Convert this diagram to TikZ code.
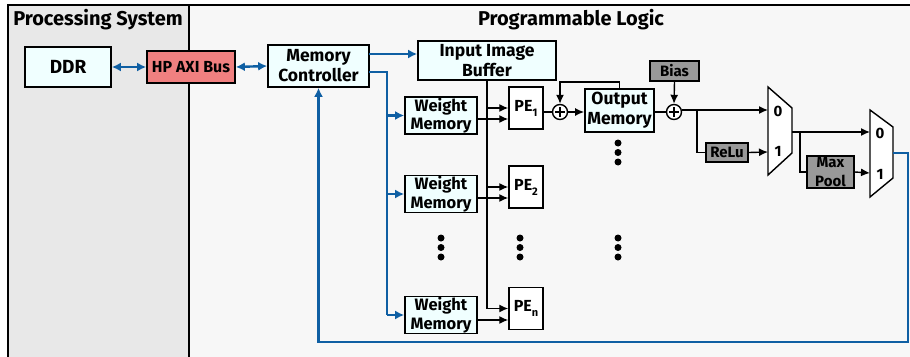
\documentclass[tikz,border=0pt]{standalone}
\usepackage{fontspec}
\setmainfont{Fira Sans}
\usetikzlibrary{arrows.meta,calc}
\definecolor{psbg}{HTML}{E8E8E8}
\definecolor{plbg}{HTML}{F7F7F7}
\definecolor{boxfill}{HTML}{F0FFFF}
\definecolor{hpred}{HTML}{F08080}
\definecolor{grayfill}{HTML}{999999}
\definecolor{busblue}{HTML}{0F5FA3}
\newcommand{\pesub}[1]{PE\raisebox{-5pt}{\fontsize{11}{11}\selectfont #1}}
\begin{document}
\begin{tikzpicture}[x=1pt,y=-1pt,
  blk/.style={draw=black, line width=1.7pt, fill=boxfill, inner sep=0pt, align=center, font=\bfseries\fontsize{17.5}{20}\selectfont},
  wm/.style={blk, minimum width=72pt, minimum height=37pt, font=\bfseries\fontsize{16.5}{18.5}\selectfont},
  pe/.style={draw=black, line width=1.5pt, fill=white, inner sep=0pt, minimum width=34pt, minimum height=42pt, font=\bfseries\fontsize{16}{18}\selectfont},
  gbox/.style={draw=black, line width=1.5pt, fill=grayfill, inner sep=0pt, align=center, font=\bfseries\fontsize{15}{18.5}\selectfont},
  adder/.style={draw=black, line width=1.4pt, circle, fill=white, minimum size=15pt, inner sep=0pt},
  title/.style={font=\bfseries\fontsize{20}{22}\selectfont, inner sep=0pt},
  muxlbl/.style={font=\bfseries\fontsize{15}{17}\selectfont, inner sep=0pt},
  bus/.style={draw=busblue, line width=2.4pt},
  sig/.style={draw=black, line width=1.4pt},
  arr/.style={-{Latex[length=9pt,width=8pt]}},
  barr/.style={-{Latex[length=9pt,width=9pt]}},
  dbarr/.style={{Latex[length=9pt,width=9pt]}-{Latex[length=9pt,width=9pt]}},
  dotc/.style={fill=black, circle, inner sep=0pt, minimum size=7pt}
]
\useasboundingbox (0,0) rectangle (910,356);
% regions
\fill[psbg] (8,5) rectangle (189,360);
\fill[plbg] (189,5) rectangle (912,360);
\draw[line width=2.6pt] (8,360) -- (8,5) -- (912,5);
\draw[line width=2.6pt] (189,5) -- (189,360);
\node[title] (pstitle) at (98,20) {Processing System};
\node[title] (pltitle) at (571,20) {Programmable Logic};

% boxes
\node[blk, minimum width=86pt, minimum height=40pt, font=\bfseries\fontsize{19}{21}\selectfont] (ddr) at (68,67) {DDR};
\node[blk, fill=hpred, minimum width=88pt, minimum height=32pt, font=\bfseries\fontsize{16}{18}\selectfont] (hp) at (191,67) {HP AXI Bus};
\node[blk, minimum width=101pt, minimum height=42pt] (mc) at (318.5,66) {Memory\\Controller};
\node[blk, minimum width=138pt, minimum height=39pt, font=\bfseries\fontsize{17.5}{20.5}\selectfont] (iib) at (487,60.5) {Input Image\\Buffer};
\node[wm] (wm1) at (441,115.5) {Weight\\Memory};
\node[wm] (wm2) at (441,194) {Weight\\Memory};
\node[wm] (wmn) at (441,315) {Weight\\Memory};
\node[pe] (pe1) at (526,108) {\pesub{1}};
\node[pe] (pe2) at (526,187) {\pesub{2}};
\node[pe] (pen) at (526,308.5) {\pesub{n}};
\node[adder] (add1) at (560,112) {};
\draw[line width=1.6pt] ($(add1)+(-5,0)$) -- ($(add1)+(5,0)$) ($(add1)+(0,-5)$) -- ($(add1)+(0,5)$);
\node[blk, minimum width=69pt, minimum height=43pt] (om) at (619.5,110.5) {Output\\Memory};
\node[adder] (add2) at (674,112) {};
\draw[line width=1.6pt] ($(add2)+(-5,0)$) -- ($(add2)+(5,0)$) ($(add2)+(0,-5)$) -- ($(add2)+(0,5)$);
\node[gbox, minimum width=49pt, minimum height=20pt] (bias) at (674.5,71) {Bias};
\node[gbox, minimum width=42pt, minimum height=19pt] (relu) at (727,152.5) {ReLu};
\node[gbox, minimum width=47pt, minimum height=32pt] (mp) at (830.5,172) {Max\\Pool};

% muxes
\draw[line width=1.4pt, fill=white] (768,87) -- (792,108) -- (792,153) -- (768,175) -- cycle;
\draw[line width=1.4pt, fill=white] (870,110) -- (893,127) -- (893,178) -- (870,197) -- cycle;
\coordinate (m1in0) at (768,110);
\coordinate (m1in1) at (768,152);
\coordinate (m1out) at (792,132);
\coordinate (m2in0) at (870,132);
\coordinate (m2in1) at (870,173);
\coordinate (m2out) at (893,153);
\node[muxlbl] (l10) at (778,111) {0};
\node[muxlbl] (l11) at (778,151) {1};
\node[muxlbl] (l20) at (880,133) {0};
\node[muxlbl] (l21) at (880,174) {1};

% blue buses
\draw[bus, dbarr] (ddr.east) -- (hp.west);
\draw[bus, dbarr] (hp.east) -- (mc.west);
\coordinate (mca) at (369,54);
\draw[bus, barr] (mca) -- (mca -| iib.west);
\coordinate (mcb) at (369,72);
\coordinate (wbus) at (387,72);
\draw[bus] (mcb) -- (wbus) -- (387,315);
\draw[bus, barr] (387,115.5) -- (wm1.west);
\draw[bus, barr] (387,194) -- (wm2.west);
\draw[bus, barr] (387,315) -- (wmn.west);
\coordinate (rc1) at (908,153);
\coordinate (rc2) at (908,342);
\coordinate (rc3) at (318.5,342);
\draw[bus, barr] (m2out) -- (rc1) -- (rc2) -- (rc3) -- (mc.south);

% image buffer bus
\coordinate (ib) at (487,308.5);
\draw[sig] (iib.south -| ib) -- (ib);
\draw[sig, arr] (487,108) -- (pe1.west);
\draw[sig, arr] (487,187) -- (pe2.west);
\draw[sig, arr] (ib) -- (pen.west);
\draw[sig, arr] (wm1.east |- 0,119) -- (pe1.west |- 0,119);
\draw[sig, arr] (wm2.east |- 0,198) -- (pe2.west |- 0,198);
\draw[sig, arr] (wmn.east |- 0,320) -- (pen.west |- 0,320);

% datapath
\draw[sig] (pe1.east |- add1) -- (add1.west);
\draw[sig, arr] (add1.east) -- (om.west |- add1);
\draw[sig, arr] (om.north) -- ++(0,-6) -| (add1.north);
\draw[sig] (om.east |- add2) -- (add2.west);
\draw[sig, arr] (bias.south) -- (add2.north);
\coordinate (br1) at (697,110);
\draw[sig, arr] (add2.east |- br1) -- (m1in0);
\draw[sig] (br1) |- (relu.west);
\draw[sig, arr] (relu.east) -- (m1in1);
\coordinate (br2) at (800,132);
\draw[sig, arr] (m1out) -- (m2in0);
\draw[sig] (br2) |- (mp.west);
\draw[sig, arr] (mp.east) -- (m2in1);

% dots
\foreach \x/\y [count=\i] in {618/143, 441/238, 520/238, 618/238} {
  \node[dotc] (da\i) at (\x,\y) {};
  \node[dotc] (db\i) at (\x,\y+9.5) {};
  \node[dotc] (dc\i) at (\x,\y+19) {};
}
\end{tikzpicture}
\end{document}
